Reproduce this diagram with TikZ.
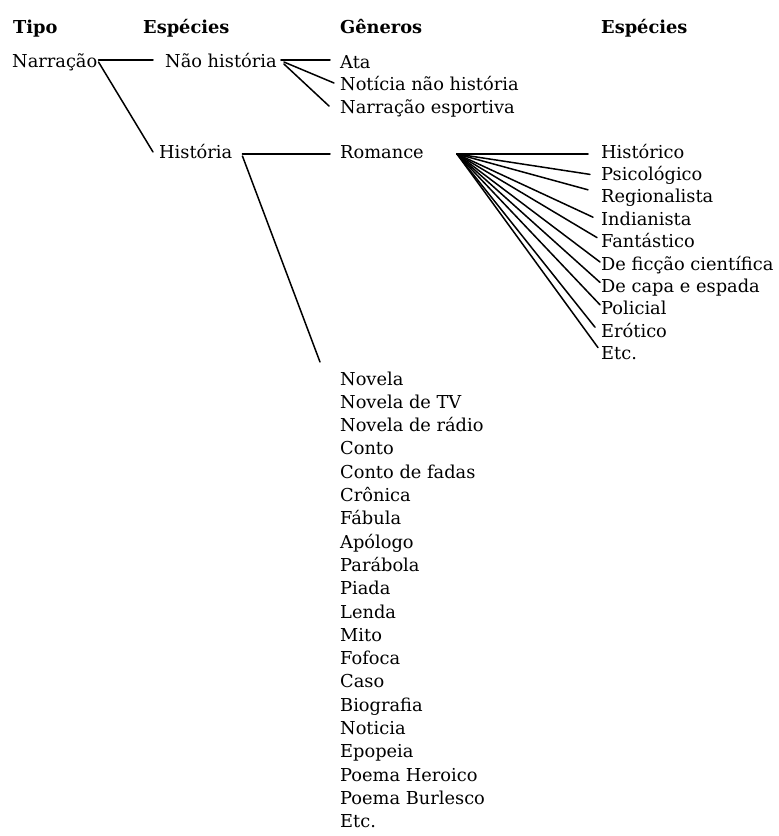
\documentclass[tikz,border=0pt]{standalone}
\usepackage{fontspec}
\setmainfont{DejaVu Serif}
\usetikzlibrary{calc}
\begin{document}
\begin{tikzpicture}[x=1pt,y=-1pt,
  lbl/.style={anchor=base west,inner sep=0pt,font=\fontsize{17.8}{21}\selectfont},
  hdr/.style={anchor=base west,inner sep=0pt,font=\fontsize{17.8}{21}\selectfont\bfseries},
  conn/.style={line width=1.5pt,line cap=round}]
\useasboundingbox (0,0) rectangle (779,836);
% headers
\node[hdr] (h1) at (13,33) {Tipo};
\node[hdr] (h2) at (143,33) {Espécies};
\node[hdr] (h3) at (340,33) {Gêneros};
\node[hdr] (h4) at (601,33) {Espécies};
% tree
\node[lbl] (narr) at (12,67) {Narração};
\node[lbl] (nao) at (165,67) {Não história};
\node[lbl] (hist) at (159,158) {História};
\node[lbl] (ata) at (340,68) {Ata};
\node[lbl] (noti) at (340,90) {Notícia não história};
\node[lbl] (nesp) at (340,113) {Narração esportiva};
\node[lbl] (rom) at (340,158) {Romance};
% right species
\foreach \t [count=\i from 0] in {Histórico,Psicológico,Regionalista,Indianista,Fantástico,De ficção científica,De capa e espada,Policial,Erótico,Etc.}
  \node[lbl] (r\i) at (601,158+22.4*\i) {\t};
% left list
\foreach \t [count=\i from 0] in {Novela,Novela de TV,Novela de rádio,Conto,Conto de fadas,Crônica,Fábula,Apólogo,Parábola,Piada,Lenda,Mito,Fofoca,Caso,Biografia,Noticia,Epopeia,Poema Heroico,Poema Burlesco,Etc.}
  \node[lbl] (l\i) at (340,385+23.3*\i) {\t};
% connectors
\draw[conn] ($(narr.base east)+(1,-7)$) -- ($(nao.base west)+(-12,-7)$);
\draw[conn] ($(narr.base east)+(1,-5)$) -- ($(hist.base west)+(-6,-6)$);
\draw[conn] ($(nao.base east)+(4,-7)$) -- ($(ata.base west)+(-10,-8)$);
\draw[conn] ($(nao.base east)+(7,-5)$) -- ($(noti.base west)+(-6,-7)$);
\draw[conn] ($(nao.base east)+(7,-3)$) -- ($(nesp.base west)+(-11,-7)$);
\draw[conn] ($(hist.base east)+(10,-4)$) -- ($(rom.base west)+(-10,-4)$);
\draw[conn] ($(hist.base east)+(10,-2)$) -- ($(l0.base west)+(-20,-23)$);
\coordinate (fan) at ($(rom.base east)+(33,-4)$);
\draw[conn] (fan) -- ($(r0.base west)+(-13,-4)$);
\draw[conn] (fan) -- ($(r1.base west)+(-11,-6)$);
\draw[conn] (fan) -- ($(r2.base west)+(-13,-13)$);
\draw[conn] (fan) -- ($(r3.base west)+(-8,-8)$);
\draw[conn] (fan) -- ($(r4.base west)+(-4,-10)$);
\draw[conn] (fan) -- ($(r5.base west)+(-1,-8)$);
\draw[conn] (fan) -- ($(r6.base west)+(-1,-10)$);
\draw[conn] (fan) -- ($(r7.base west)+(-1,-10)$);
\draw[conn] (fan) -- ($(r8.base west)+(-6,-10)$);
\draw[conn] (fan) -- ($(r9.base west)+(-3,-12)$);
\end{tikzpicture}
\end{document}
